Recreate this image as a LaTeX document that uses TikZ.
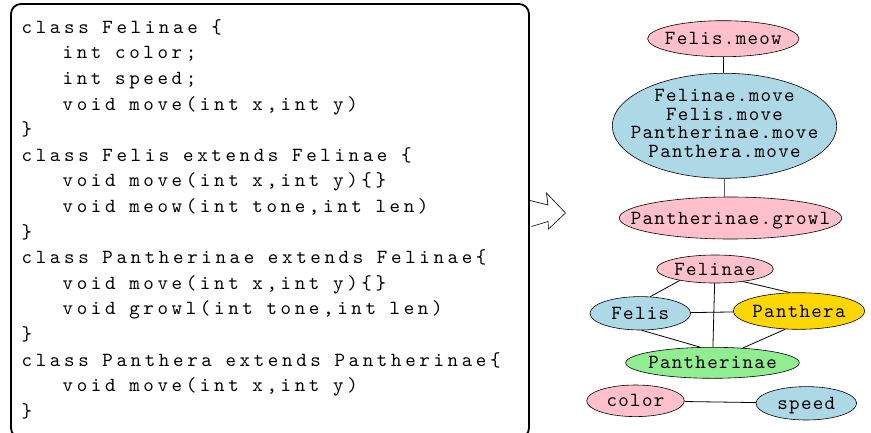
\documentclass[tikz,border=0pt]{standalone}
\usepackage{fontspec}
\usetikzlibrary{shapes.geometric}
% monospaced fonts: tracked Latin Modern Mono for the listing and the graph labels
\newfontfamily\codefont{lmmono10-regular.otf}[LetterSpace=18.2]
\newfontfamily\nodefont{lmmono10-regular.otf}[LetterSpace=6.5]
\definecolor{cpink}{HTML}{FFC0CB}
\definecolor{cblue}{HTML}{ADD8E6}
\definecolor{cgold}{HTML}{FFD700}
\definecolor{cgreen}{HTML}{90EE90}
\newcommand{\lbl}[1]{\makebox[0pt]{#1}}
\tikzset{
  codebox/.style={draw, line width=1.8pt, rounded corners=10pt, inner sep=0pt},
  codeline/.style={anchor=base west, inner sep=0pt,
    font={\codefont\fontsize{20pt}{22pt}\selectfont\spaceskip=13.67pt\relax}},
  oval/.style={ellipse, draw, line width=0.6pt, inner sep=0pt,
    font={\nodefont\fontsize{20pt}{18.5pt}\selectfont}},
  oneline/.style={text height=13.9pt, text depth=1.7pt},
  edge/.style={draw, line width=0.8pt},
  thickedge/.style={draw, line width=1.3pt, black!65},
}
\begin{document}
\begin{tikzpicture}[x=1pt, y=-1pt]
\useasboundingbox (0,0) rectangle (871,432);

% listing frame
\node[codebox, minimum width=518pt, minimum height=434pt] (code) at (270,221) {};

% listing lines
\node[codeline] (l1)  at (21.5, 33.3)  {class Felinae \{};
\node[codeline] (l2)  at (21.5, 58.9)  {\hspace*{41pt}int color;};
\node[codeline] (l3)  at (21.5, 84.5)  {\hspace*{41pt}int speed;};
\node[codeline] (l4)  at (21.5, 110.1) {\hspace*{41pt}void move(int x,int y)};
\node[codeline] (l5)  at (21.5, 135.7) {\}};
\node[codeline] (l6)  at (21.5, 161.3) {class Felis extends Felinae \{};
\node[codeline] (l7)  at (21.5, 186.9) {\hspace*{41pt}void move(int x,int y)\{\}};
\node[codeline] (l8)  at (21.5, 212.5) {\hspace*{41pt}void meow(int tone,int len)};
\node[codeline] (l9)  at (21.5, 238.1) {\}};
\node[codeline] (l10) at (21.5, 263.7) {class Pantherinae extends Felinae\{};
\node[codeline] (l11) at (21.5, 289.3) {\hspace*{41pt}void move(int x,int y)\{\}};
\node[codeline] (l12) at (21.5, 314.9) {\hspace*{41pt}void growl(int tone,int len)};
\node[codeline] (l13) at (21.5, 340.5) {\}};
\node[codeline] (l14) at (21.5, 366.1) {class Panthera extends Pantherinae\{};
\node[codeline] (l15) at (21.5, 391.7) {\hspace*{41pt}void move(int x,int y)};
\node[codeline] (l16) at (21.5, 417.3) {\}};

% hollow zig-zag arrow
\draw[line width=1.8pt, black!45] (531,201.5) -- (548.5,206) -- (547.2,194.5);
\draw[line width=0.6pt, fill=white, line join=miter]
  (530,200.5) -- (548,205) -- (546.5,193) -- (565.5,213) -- (548.5,229)
  -- (548,221.5) -- (531.5,226.5);

% method graph
\node[oval, oneline, fill=cpink, minimum width=151.4pt, minimum height=36pt]
  (meow) at (723.3,38.7) {\lbl{Felis.meow}};
\node[oval, fill=cblue, minimum width=224.4pt, minimum height=105pt]
  (move) at (724.5,125.8)
  {\lbl{\begin{tabular}{@{}c@{}}Felinae.move\\Felis.move\\Pantherinae.move\\Panthera.move\end{tabular}}};
\node[oval, oneline, fill=cpink, minimum width=222.4pt, minimum height=42pt]
  (growl) at (730.5,218) {\lbl{Pantherinae.growl}};
\draw[edge] (meow.south) -- (meow.south |- move.north);
\draw[thickedge] (move.south) -- (move.south |- growl.north);

% class graph
\node[oval, oneline, fill=cpink, minimum width=116.6pt, minimum height=28pt]
  (felinae) at (715,269) {\lbl{Felinae}};
\node[oval, oneline, fill=cblue, minimum width=100.6pt, minimum height=33.4pt]
  (felis) at (640.3,313.3) {\lbl{Felis}};
\node[oval, oneline, fill=cgold, minimum width=131.6pt, minimum height=36.6pt]
  (panthera) at (799,311) {\lbl{Panthera}};
\node[oval, oneline, fill=cgreen, minimum width=173.6pt, minimum height=31pt]
  (pantherinae) at (712.5,362.8) {\lbl{Pantherinae}};
\draw[edge] (felinae.198) -- (felis.59);
\draw[edge] (felinae.336) -- (panthera.116);
\draw[edge] (felinae) -- (pantherinae);
\draw[edge] (felis) -- (panthera);
\draw[edge] (felis.275) -- (pantherinae.128);
\draw[edge] (panthera.233) -- (pantherinae.26);

% field graph
\node[oval, oneline, fill=cpink, minimum width=97.6pt, minimum height=31.6pt]
  (color) at (635.5,400.8) {\lbl{color}};
\node[oval, oneline, fill=cblue, minimum width=100.6pt, minimum height=33.4pt]
  (speed) at (806.3,403.3) {\lbl{speed}};
\draw[edge] (color) -- (speed);
\end{tikzpicture}
\end{document}
